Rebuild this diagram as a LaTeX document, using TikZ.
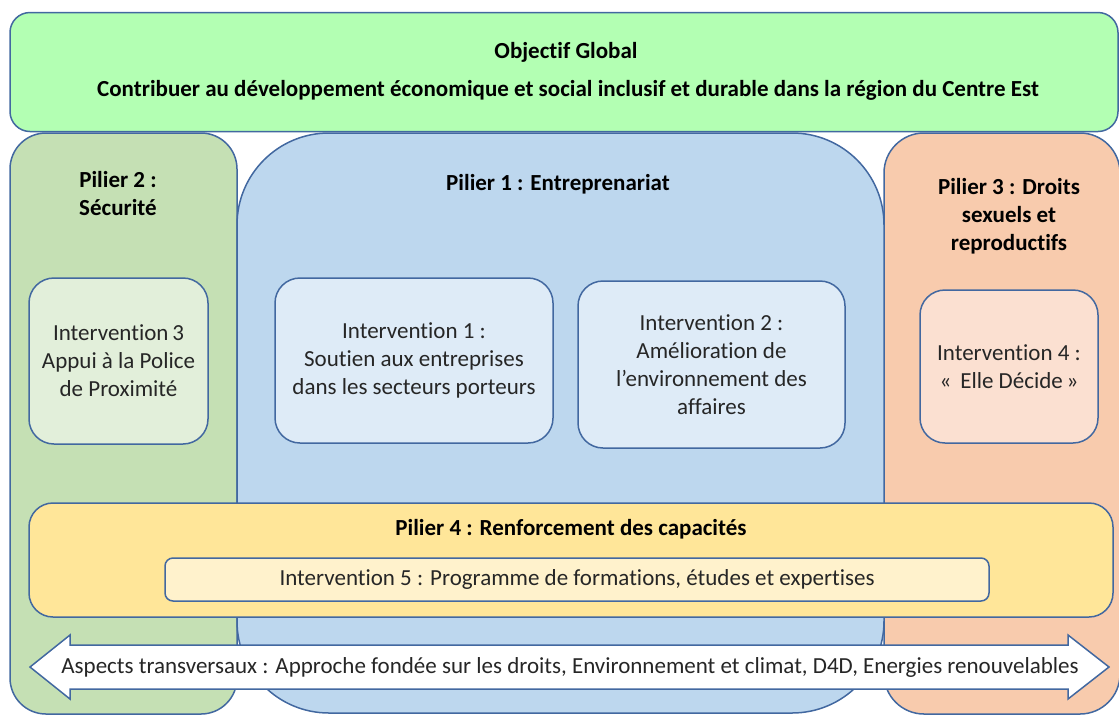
\documentclass[tikz,border=0pt]{standalone}
\usepackage{fontspec}
\setmainfont{Carlito}[Ligatures=NoCommon]
\definecolor{edge}{RGB}{66,104,160}
\definecolor{topgreen}{RGB}{179,255,179}
\definecolor{pgreen}{RGB}{197,224,180}
\definecolor{pblue}{RGB}{189,215,238}
\definecolor{porange}{RGB}{248,203,173}
\definecolor{pyellow}{RGB}{255,230,153}
\definecolor{igreen}{RGB}{226,239,218}
\definecolor{iblue}{RGB}{222,235,247}
\definecolor{iorange}{RGB}{251,224,209}
\definecolor{iyellow}{RGB}{255,242,204}
\definecolor{txt}{RGB}{38,38,38}
\begin{document}
\begin{tikzpicture}[x=1pt,y=-1pt,
  panel/.style={draw=edge,line width=1.5pt,inner sep=0pt},
  title/.style={font=\bfseries\fontsize{23}{28}\selectfont,text=black,align=center,inner sep=0pt},
  body/.style={font=\fontsize{23}{28}\selectfont,text=txt,align=center,inner sep=0pt}]
\useasboundingbox (0,0) rectangle (1119,716);

% outer frames
\node[panel,fill=topgreen,rounded corners=20pt,minimum width=1108pt,minimum height=119pt] (goal) at (564,72) {};
\node[panel,fill=pgreen,rounded corners=36pt,minimum width=227pt,minimum height=581pt] (p2) at (123.5,423.5) {};
\node[panel,fill=porange,rounded corners=40pt,minimum width=236pt,minimum height=581pt] (p3) at (1002,423.5) {};
\node[panel,fill=pblue,rounded corners=92pt,minimum width=647pt,minimum height=580pt] (p1) at (560.5,423) {};

% pillar titles
\node[title] (goalt) at (566,52) {Objectif Global};
\node[title] (goals) at (568,90) {Contribuer au développement économique et social inclusif et durable dans la région du Centre Est};
\node[title] (p2t) at (118,194) {Pilier 2 :\\Sécurité};
\node[title] (p1t) at (558,184) {Pilier 1 : Entreprenariat};
\node[title] (p3t) at (1009,216) {Pilier 3 : Droits\\sexuels et\\reproductifs};

% interventions
\node[panel,fill=igreen,rounded corners=25pt,minimum width=179pt,minimum height=166pt] (i3) at (118.5,361) {};
\node[body] at (i3) {Intervention\,3\\Appui à la Police\\de Proximité};
\node[panel,fill=iblue,rounded corners=25pt,minimum width=278pt,minimum height=165pt] (i1) at (414,360.5) {};
\node[body] at (i1) {Intervention 1 :\\Soutien aux entreprises\\dans les secteurs porteurs};
\node[panel,fill=iblue,rounded corners=25pt,minimum width=267pt,minimum height=167pt] (i2) at (711.5,364.5) {};
\node[body] at (i2) {Intervention 2 :\\Amélioration de\\l’environnement des\\affaires};
\node[panel,fill=iorange,rounded corners=25pt,minimum width=178pt,minimum height=153pt] (i4) at (1009,366.5) {};
\node[body] at (i4) {Intervention 4 :\\«\, Elle Décide\,»};

% capacity pillar
\node[panel,fill=pyellow,rounded corners=24pt,minimum width=1084pt,minimum height=114pt] (p4) at (571,560) {};
\node[title] (p4t) at (571,529) {Pilier 4 : Renforcement des capacités};
\node[panel,fill=iyellow,rounded corners=8pt,minimum width=824pt,minimum height=43pt] (i5) at (577,579.5) {};
\node[body] at (i5) {Intervention 5 : Programme de formations, études et expertises};

% cross-cutting double arrow
\draw[draw=edge,line width=1.5pt,fill=white,line join=miter]
  (30,667) -- (70,635) -- (70,645) -- (1068,645) -- (1068,635) -- (1109,667)
  -- (1068,699) -- (1068,689) -- (70,689) -- (70,699) -- cycle;
\node[body] (aspects) at (570,667) {Aspects transversaux : Approche fondée sur les droits, Environnement et climat, D4D, Energies renouvelables};
\end{tikzpicture}
\end{document}
